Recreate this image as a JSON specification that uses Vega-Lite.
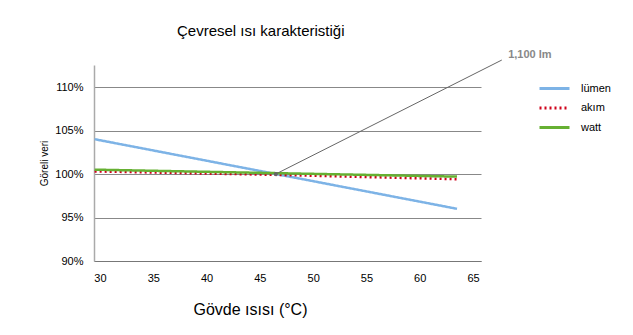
{
  "$schema": "https://vega.github.io/schema/vega-lite/v6.json",
  "width": 387,
  "height": 196,
  "autosize": {"type": "none"},
  "padding": {"left": 94, "top": 65, "right": 152, "bottom": 74},
  "background": "white",
  "config": {
    "font": "Liberation Sans",
    "view": {"stroke": null},
    "axis": {"labelFont": "Liberation Sans", "titleFont": "Liberation Sans", "labelColor": "#000", "titleColor": "#000"}
  },
  "title": {
    "text": "Çevresel ısı karakteristiği",
    "anchor": "start",
    "frame": "group",
    "dx": 83,
    "offset": 10,
    "fontSize": 15,
    "fontWeight": "normal",
    "font": "Liberation Sans",
    "color": "#000"
  },
  "layer": [
    {
      "data": {
        "values": [
          {"t": 29.5, "v": 104.0, "s": "lümen"},
          {"t": 46.5, "v": 100.0, "s": "lümen"},
          {"t": 63.5, "v": 96.0, "s": "lümen"},
          {"t": 29.5, "v": 100.3, "s": "akım"},
          {"t": 46.5, "v": 99.9, "s": "akım"},
          {"t": 63.5, "v": 99.4, "s": "akım"},
          {"t": 29.5, "v": 100.5, "s": "watt"},
          {"t": 46.5, "v": 100.1, "s": "watt"},
          {"t": 63.5, "v": 99.7, "s": "watt"}
        ]
      },
      "mark": {"type": "line", "strokeWidth": 2.5},
      "encoding": {
        "x": {
          "field": "t", "type": "quantitative",
          "scale": {"domain": [29.44, 65.75], "nice": false, "zero": false},
          "axis": {
            "values": [30, 35, 40, 45, 50, 55, 60, 65],
            "grid": false, "ticks": false,
            "domainColor": "#777", "domainWidth": 1,
            "labelFontSize": 11, "labelPadding": 11,
            "title": "Gövde ısısı (°C)", "titleFontSize": 16, "titleFontWeight": "normal",
            "titlePadding": 18, "titleX": 156, "titleAlign": "center"
          }
        },
        "y": {
          "field": "v", "type": "quantitative",
          "scale": {"domain": [90, 112.53], "nice": false, "zero": false},
          "axis": {
            "values": [90, 95, 100, 105, 110],
            "labelExpr": "datum.value + '%'",
            "grid": true, "gridColor": "#888", "gridWidth": 1, "gridOpacity": 1,
            "ticks": false, "domainColor": "#aaa", "domainWidth": 1.5,
            "labelFontSize": 11, "labelPadding": 11,
            "title": "Göreli veri", "titleFontSize": 10, "titleFontWeight": "normal",
            "titlePadding": 5
          }
        },
        "color": {
          "field": "s", "type": "nominal",
          "scale": {"domain": ["lümen", "akım", "watt"], "range": ["#7db3e6", "#d0021b", "#66b032"]},
          "legend": {
            "title": null, "orient": "none", "legendX": 453, "legendY": 16,
            "symbolType": "M-2.5,0H2.5", "symbolSize": 144, "symbolStrokeWidth": 3,
            "labelFontSize": 11, "labelFont": "Liberation Sans", "labelColor": "#000",
            "rowPadding": 5.5, "labelOffset": 19
          }
        },
        "strokeDash": {
          "field": "s", "type": "nominal",
          "scale": {"domain": ["lümen", "akım", "watt"], "range": [[1, 0], [2, 3], [1, 0]]},
          "legend": null
        }
      }
    },
    {
      "data": {"values": [{"t": 46.5, "v": 100.0}, {"t": 67.7, "v": 113.1}]},
      "mark": {"type": "line", "color": "#666", "strokeWidth": 1},
      "encoding": {
        "x": {"field": "t", "type": "quantitative"},
        "y": {"field": "v", "type": "quantitative"}
      }
    },
    {
      "data": {"values": [{"t": 46.5, "v": 100.0}]},
      "mark": {"type": "point", "filled": true, "color": "#666", "size": 18, "opacity": 1},
      "encoding": {
        "x": {"field": "t", "type": "quantitative"},
        "y": {"field": "v", "type": "quantitative"}
      }
    },
    {
      "data": {"values": [{"t": 68.3, "v": 113.7, "label": "1,100 lm"}]},
      "mark": {"type": "text", "align": "left", "baseline": "middle", "fontSize": 11, "fontWeight": "bold", "color": "#888", "font": "Liberation Sans"},
      "encoding": {
        "x": {"field": "t", "type": "quantitative"},
        "y": {"field": "v", "type": "quantitative"},
        "text": {"field": "label"}
      }
    }
  ]
}
